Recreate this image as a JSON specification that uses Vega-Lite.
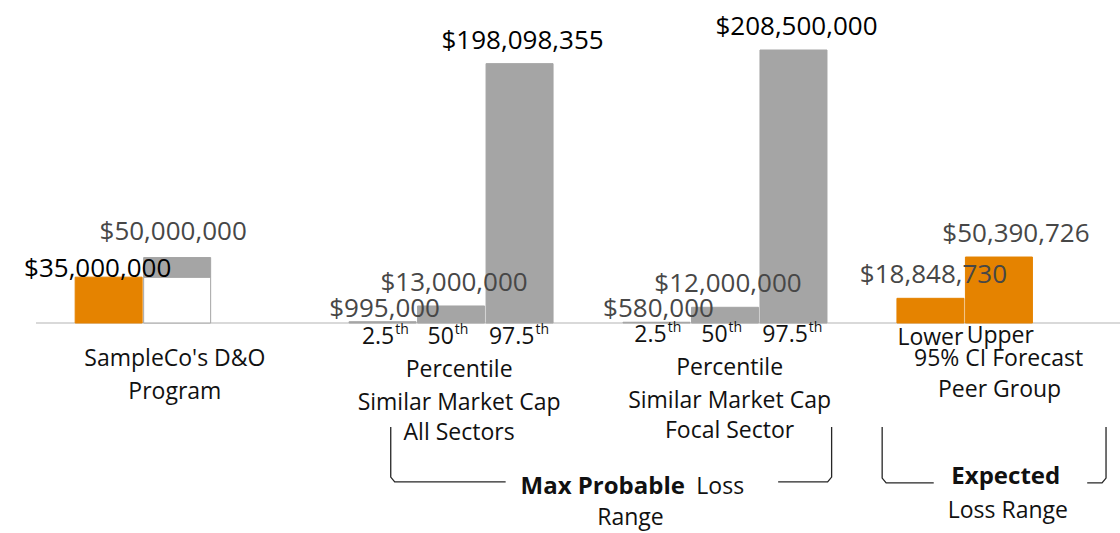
{
  "$schema": "https://vega.github.io/schema/vega-lite/v6.json",
  "width": 1084,
  "height": 533,
  "padding": {"left": 36, "top": 0, "right": 0, "bottom": 0},
  "autosize": {"type": "none"},
  "config": {"view": {"stroke": null}, "font": "Open Sans"},
  "datasets": {
    "bars": [
      {"slot": 0, "value": 35000000, "base": 0, "kind": "program"},
      {"slot": 1, "value": 35000000, "base": 0, "kind": "retention"},
      {"slot": 1, "value": 50000000, "base": 35000000, "kind": "limit"},
      {"slot": 4, "value": 995000, "base": 0, "kind": "benchmark"},
      {"slot": 5, "value": 13000000, "base": 0, "kind": "benchmark"},
      {"slot": 6, "value": 198098355, "base": 0, "kind": "benchmark"},
      {"slot": 8, "value": 580000, "base": 0, "kind": "benchmark"},
      {"slot": 9, "value": 12000000, "base": 0, "kind": "benchmark"},
      {"slot": 10, "value": 208500000, "base": 0, "kind": "benchmark"},
      {"slot": 12, "value": 18848730, "base": 0, "kind": "forecast"},
      {"slot": 13, "value": 50390726, "base": 0, "kind": "forecast"}
    ],
    "labels": [
      {"slot": 0, "value": 35000000},
      {"slot": 1, "value": 50000000},
      {"slot": 4, "value": 995000},
      {"slot": 5, "value": 13000000},
      {"slot": 6, "value": 198098355},
      {"slot": 8, "value": 580000},
      {"slot": 9, "value": 12000000},
      {"slot": 10, "value": 208500000},
      {"slot": 12, "value": 18848730},
      {"slot": 13, "value": 50390726}
    ],
    "captions": [
      {"slot": 0.967, "row": 11.23, "text": "SampleCo's D&O"},
      {"slot": 0.967, "row": 12.25, "text": "Program"},
      {"slot": 5.117, "row": 11.55, "text": "Percentile"},
      {"slot": 5.117, "row": 12.58, "text": "Similar Market Cap"},
      {"slot": 5.117, "row": 13.52, "text": "All Sectors"},
      {"slot": 9.067, "row": 11.5, "text": "Percentile"},
      {"slot": 9.067, "row": 12.53, "text": "Similar Market Cap"},
      {"slot": 9.067, "row": 13.47, "text": "Focal Sector"},
      {"slot": 12.0, "row": 10.55, "text": "Lower"},
      {"slot": 13.02, "row": 10.5, "text": "Upper"},
      {"slot": 12.995, "row": 11.23, "text": "95% CI Forecast"},
      {"slot": 13.01, "row": 12.2, "text": "Peer Group"},
      {"slot": 8.93, "row": 15.22, "text": "Loss"},
      {"slot": 7.62, "row": 16.2, "text": "Range"},
      {"slot": 13.13, "row": 15.97, "text": "Loss Range"}
    ],
    "emphasis": [
      {"slot": 7.215, "row": 15.22, "text": "Max Probable"},
      {"slot": 13.1, "row": 14.92, "text": "Expected"}
    ],
    "percentiles": [
      {"slot": 4.17, "row": 10.52, "num": "2.5"},
      {"slot": 5.04, "row": 10.52, "num": "50"},
      {"slot": 6.217, "row": 10.52, "num": "97.5"},
      {"slot": 8.148, "row": 10.48, "num": "2.5"},
      {"slot": 9.038, "row": 10.48, "num": "50"},
      {"slot": 10.21, "row": 10.48, "num": "97.5"}
    ],
    "brackets": [
      {"id": "a", "order": 1, "slot": 4.119, "row": 13.34},
      {"id": "a", "order": 2, "slot": 4.119, "row": 14.91},
      {"id": "a", "order": 3, "slot": 4.177, "row": 15.06},
      {"id": "a", "order": 4, "slot": 5.797, "row": 15.06},
      {"id": "b", "order": 1, "slot": 9.776, "row": 15.06},
      {"id": "b", "order": 2, "slot": 10.499, "row": 15.06},
      {"id": "b", "order": 3, "slot": 10.557, "row": 14.91},
      {"id": "b", "order": 4, "slot": 10.557, "row": 13.34},
      {"id": "c", "order": 1, "slot": 11.295, "row": 13.34},
      {"id": "c", "order": 2, "slot": 11.295, "row": 14.94},
      {"id": "c", "order": 3, "slot": 11.353, "row": 15.09},
      {"id": "c", "order": 4, "slot": 12.048, "row": 15.09},
      {"id": "d", "order": 1, "slot": 14.289, "row": 15.09},
      {"id": "d", "order": 2, "slot": 14.506, "row": 15.09},
      {"id": "d", "order": 3, "slot": 14.564, "row": 14.94},
      {"id": "d", "order": 4, "slot": 14.564, "row": 13.34}
    ]
  },
  "layer": [
    {
      "encoding": {
        "x": {"field": "slot", "type": "quantitative", "scale": {"domain": [-0.988, 14.695], "nice": false, "zero": false}, "axis": null}
      },
      "layer": [
        {
          "data": {"values": [{"slot": 0}]},
          "mark": {"type": "rule", "color": "#D9D9D9", "strokeWidth": 2},
          "encoding": {
            "x": null,
            "y": {"datum": 0, "type": "quantitative", "scale": {"domain": [-160400000, 246700000], "nice": false, "zero": false}, "axis": null}
          }
        },
        {
          "data": {"name": "bars"},
          "mark": {"type": "bar", "width": 67, "strokeWidth": 1},
          "encoding": {
            "y": {"field": "value", "type": "quantitative", "scale": {"domain": [-160400000, 246700000], "nice": false, "zero": false}, "axis": null},
            "y2": {"field": "base"},
            "color": {"field": "kind", "type": "nominal", "legend": null, "scale": {"domain": ["program", "retention", "limit", "benchmark", "forecast"], "range": ["#E58300", "#FFFFFF", "#A5A5A5", "#A5A5A5", "#E58300"]}},
            "stroke": {"field": "kind", "type": "nominal", "legend": null, "scale": {"domain": ["program", "retention", "limit", "benchmark", "forecast"], "range": ["#E58300", "#A5A5A5", "#A5A5A5", "#A5A5A5", "#E58300"]}}
          }
        },
        {
          "data": {"name": "labels"},
          "transform": [{"filter": {"field": "value", "oneOf": [13000000, 198098355, 208500000, 18848730, 12000000]}}],
          "mark": {"type": "text", "fontSize": 26, "baseline": "alphabetic", "align": "center", "dy": -15, "dx": 3},
          "encoding": {
            "y": {"field": "value", "type": "quantitative"},
            "text": {"field": "value", "type": "quantitative", "format": "$,d"},
            "color": {"condition": {"test": "datum.value > 100000000", "value": "#000000"}, "value": "#474747"}
          }
        },
        {
          "data": {"name": "labels"},
          "transform": [{"filter": {"field": "value", "equal": 50000000}}],
          "mark": {"type": "text", "fontSize": 26, "baseline": "alphabetic", "align": "center", "dy": -18, "dx": -4, "color": "#474747"},
          "encoding": {
            "y": {"field": "value", "type": "quantitative"},
            "text": {"field": "value", "type": "quantitative", "format": "$,d"}
          }
        },
        {
          "data": {"name": "labels"},
          "transform": [{"filter": {"field": "value", "equal": 35000000}}],
          "mark": {"type": "text", "fontSize": 26, "baseline": "alphabetic", "align": "center", "dy": 0, "dx": -11, "color": "#000000"},
          "encoding": {
            "y": {"field": "value", "type": "quantitative"},
            "text": {"field": "value", "type": "quantitative", "format": "$,d"}
          }
        },
        {
          "data": {"name": "labels"},
          "transform": [{"filter": {"field": "value", "oneOf": [995000, 580000]}}],
          "mark": {"type": "text", "fontSize": 26, "baseline": "alphabetic", "align": "center", "dy": -5, "dx": 2, "color": "#474747"},
          "encoding": {
            "y": {"field": "value", "type": "quantitative"},
            "text": {"field": "value", "type": "quantitative", "format": "$,d"}
          }
        },
        {
          "data": {"name": "labels"},
          "transform": [{"filter": {"field": "value", "equal": 50390726}}],
          "mark": {"type": "text", "fontSize": 26, "baseline": "alphabetic", "align": "center", "dy": -15, "dx": 17, "color": "#474747"},
          "encoding": {
            "y": {"field": "value", "type": "quantitative"},
            "text": {"field": "value", "type": "quantitative", "format": "$,d"}
          }
        }
      ]
    },
    {
      "encoding": {
        "x": {"field": "slot", "type": "quantitative", "scale": {"domain": [-0.988, 14.695], "nice": false, "zero": false}, "axis": null},
        "y": {"field": "row", "type": "quantitative", "scale": {"domain": [0, 16.656], "reverse": true, "nice": false, "zero": false}, "axis": null}
      },
      "layer": [
        {
          "data": {"name": "brackets"},
          "mark": {"type": "line", "color": "#262626", "strokeWidth": 1.3},
          "encoding": {
            "detail": {"field": "id", "type": "nominal"},
            "order": {"field": "order", "type": "quantitative"}
          }
        },
        {
          "data": {"name": "captions"},
          "mark": {"type": "text", "fontSize": 23, "baseline": "middle", "align": "center", "color": "#111111"},
          "encoding": {"text": {"field": "text", "type": "nominal"}}
        },
        {
          "data": {"name": "emphasis"},
          "mark": {"type": "text", "fontSize": 24, "fontWeight": "bold", "baseline": "middle", "align": "center", "color": "#111111"},
          "encoding": {"text": {"field": "text", "type": "nominal"}}
        },
        {
          "data": {"name": "percentiles"},
          "mark": {"type": "text", "fontSize": 23, "baseline": "middle", "align": "right", "color": "#111111"},
          "encoding": {"text": {"field": "num", "type": "nominal"}}
        },
        {
          "data": {"name": "percentiles"},
          "mark": {"type": "text", "fontSize": 14, "baseline": "middle", "align": "left", "dx": 1, "dy": -7, "color": "#111111", "text": "th"},
          "encoding": {}
        }
      ]
    }
  ],
  "resolve": {"scale": {"y": "independent"}}
}
